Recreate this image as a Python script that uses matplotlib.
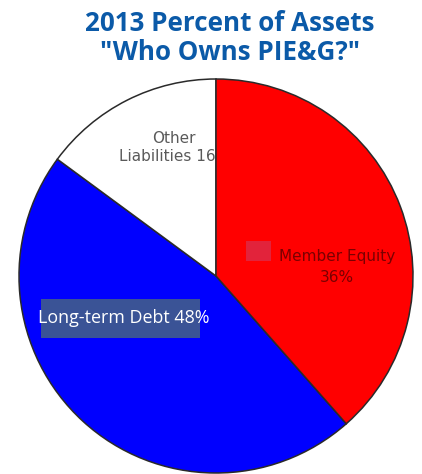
import matplotlib
matplotlib.use("Agg")
import matplotlib.pyplot as plt
from matplotlib.patches import Rectangle

# slice shares as drawn in the picture (clockwise from 12 o'clock)
slices = ["Member Equity", "Long-term Debt", "Other Liabilities"]
shares = [38.5, 46.6, 14.9]
labels_pct = ["36%", "48%", "16%"]
colors = ["#ff0000", "#0000ff", "#ffffff"]

W, H = 422, 474

fig = plt.figure(figsize=(W / 100, H / 100), dpi=100)
ax = fig.add_axes([0, 0, 1, 1])

# y in pixels from top -> data y
def py(y):
    return H - y

wedges, _ = ax.pie(shares, colors=colors, startangle=90, counterclock=False,
                   center=(216, py(276)), radius=197,
                   wedgeprops=dict(edgecolor="#2a2a2a", linewidth=1.1))
ax.set_xlim(0, W)
ax.set_ylim(0, H)
ax.set_aspect("equal")
ax.axis("off")

# the "%" of the Other label sits under the red wedge
wedges[0].set_zorder(5)

# title
ax.text(230, py(23), "2013 Percent of Assets", ha="center", va="center",
        fontsize=18.7, fontweight="bold", color="#0b5aa8", family="Open Sans")
ax.text(230, py(52), "\"Who Owns PIE&G?\"", ha="center", va="center",
        fontsize=18.7, fontweight="bold", color="#0b5aa8", family="Open Sans")

# Other Liabilities
ax.text(174, py(138), "Other", ha="center", va="center", fontsize=11,
        color="#5a5a5a", family="DejaVu Sans", zorder=3)
ax.text(119, py(156), "Liabilities " + labels_pct[2], ha="left", va="center",
        fontsize=11, color="#5a5a5a", family="DejaVu Sans", zorder=3)

# Member Equity
ax.add_patch(Rectangle((246, py(261)), 25, 20, facecolor="#e2233b",
                       edgecolor="none", zorder=6))
ax.text(337, py(256), "Member Equity", ha="center", va="center", fontsize=11,
        color="#7a0000", family="DejaVu Sans", zorder=6)
ax.text(337, py(278), labels_pct[0], ha="center", va="center", fontsize=11,
        color="#7a0000", family="DejaVu Sans", zorder=6)

# Long-term Debt box
ax.add_patch(Rectangle((41, py(338)), 159, 39, facecolor="#3a5396",
                       edgecolor="none", zorder=6))
ax.text(38, py(318), "Long-term Debt " + labels_pct[1], ha="left", va="center",
        fontsize=12.9, color="white", family="Open Sans", zorder=7)

fig.savefig("out.png", dpi=100)
